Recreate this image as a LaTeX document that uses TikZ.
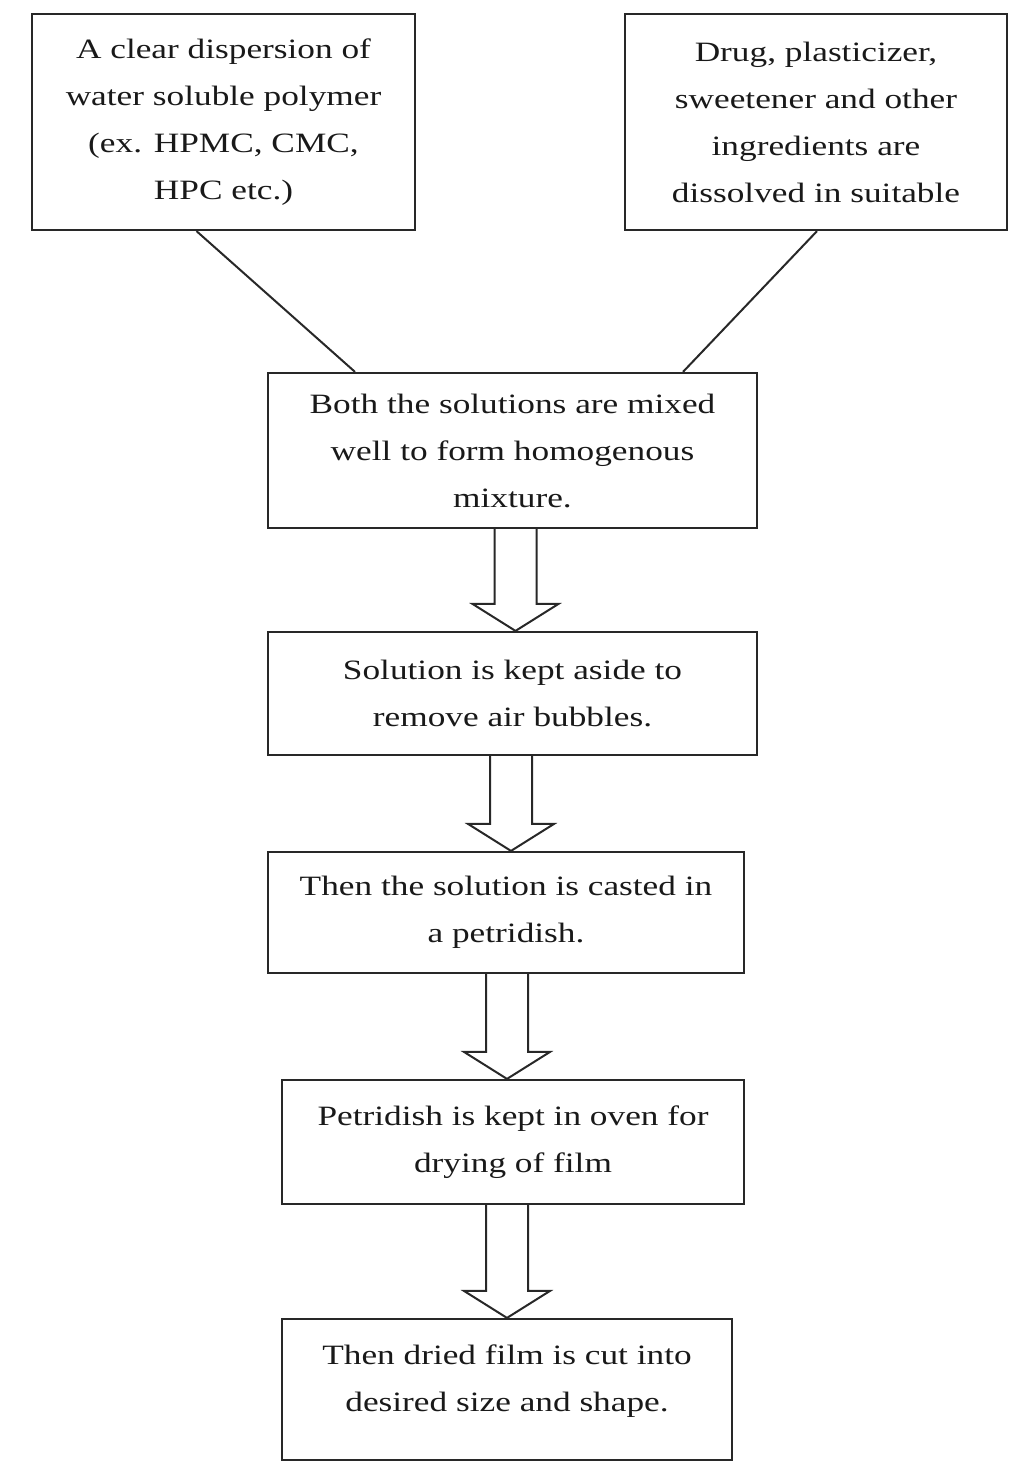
\documentclass[tikz,border=0pt]{standalone}
\usepackage{fontspec}
\setmainfont{Liberation Serif}[FakeStretch=1.26]
\usepackage{tikz}
\usetikzlibrary{calc}
\definecolor{boxline}{RGB}{40, 40, 40}
\definecolor{boxtext}{RGB}{25, 25, 25}

\tikzset{
    stepbox/.style={draw=boxline, line width=2.2pt, align=center, inner sep=0pt,
        text=boxtext, font=\fontsize{28}{47}\selectfont},
    joinline/.style={draw=boxline, line width=2pt},
    fatline/.style={draw=boxline, line width=2pt, line join=miter}
}

% hollow block arrow from the bottom of #1 to the top of #2, tip shifted by #3
\newcommand{\fatarrow}[3]{%
    \coordinate (tip) at ($(#2.north)+(#3,0)$);
    \coordinate (root) at (tip |- #1.south);
    \draw[fatline] ($(root)+(-21,0)$) -- ($(tip)+(-21,-27)$)
        -- ($(tip)+(-43,-27)$) -- (tip)
        -- ($(tip)+(43,-27)$) -- ($(tip)+(21,-27)$)
        -- ($(root)+(21,0)$);
}

\begin{document}
\begin{tikzpicture}[x=1pt, y=-1pt]
    \useasboundingbox (0,0) rectangle (1015,1464);

    % Starting solutions
    \node[stepbox, minimum width=383pt, minimum height=216pt] (polymer) at (223.5,122)
        {A clear dispersion of\\water soluble polymer\\(ex. HPMC, CMC,\\HPC etc.)};
    \node[stepbox, minimum width=382pt, minimum height=216pt] (drug) at (816,122)
        {Drug, plasticizer,\\sweetener and other\\ingredients are\\dissolved in suitable};

    % Process steps
    \node[stepbox, minimum width=489pt, minimum height=155pt] (mix) at (512.5,450.5)
        {Both the solutions are mixed\\well to form homogenous\\mixture.};
    \node[stepbox, minimum width=489pt, minimum height=123pt] (degas) at (512.5,693.5)
        {Solution is kept aside to\\remove air bubbles.};
    \node[stepbox, minimum width=476pt, minimum height=121pt] (cast) at (506,912.5)
        {Then the solution is casted in\\a petridish.};
    \node[stepbox, minimum width=462pt, minimum height=124pt] (dry) at (513,1142)
        {Petridish is kept in oven for\\drying of film};
    \node[stepbox, minimum width=450pt, minimum height=141pt, text depth=23pt] (cut) at (507,1389.5)
        {Then dried film is cut into\\desired size and shape.};

    % Joining lines
    \draw[joinline] ($(polymer.south)+(-27,0)$) -- ($(mix.north)+(-157.5,0)$);
    \draw[joinline] ($(drug.south)+(1,0)$) -- ($(mix.north)+(170.5,0)$);

    % Block arrows
    \fatarrow{mix}{degas}{3}
    \fatarrow{degas}{cast}{5}
    \fatarrow{cast}{dry}{-6}
    \fatarrow{dry}{cut}{0}
\end{tikzpicture}
\end{document}
